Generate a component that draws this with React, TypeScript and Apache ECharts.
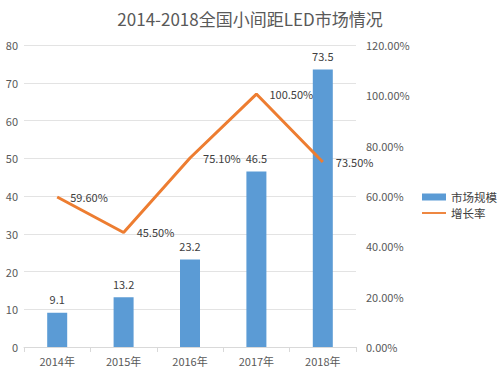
import React, { useEffect, useRef } from "react";
import * as echarts from "echarts";

const categories = ["2014年", "2015年", "2016年", "2017年", "2018年"];
const marketSize = [9.1, 13.2, 23.2, 46.5, 73.5];
const growthRate = [59.6, 45.5, 75.1, 100.5, 73.5];

export default function App() {
  const ref = useRef<HTMLDivElement>(null);
  useEffect(() => {
    document.body.style.margin = "0";
    const chart = echarts.init(ref.current!, null, { renderer: "svg" });
    const font = "'Noto Sans CJK SC', 'Noto Sans', sans-serif";
    chart.setOption({
      animation: false,
      backgroundColor: "#ffffff",
      textStyle: { fontFamily: font },
      title: {
        text: "2014-2018全国小间距LED市场情况",
        left: "center",
        top: 5,
        textStyle: { fontSize: 17, fontWeight: "normal", color: "#595959", fontFamily: font },
      },
      legend: {
        orient: "vertical",
        left: 417,
        top: 186,
        itemWidth: 24,
        itemHeight: 7,
        itemGap: 4,
        textStyle: { fontSize: 11.5, lineHeight: 12, color: "#404040", fontFamily: font },
        data: [
          { name: "市场规模", icon: "rect" },
          { name: "增长率", icon: "path://M0,0 L0,0 M0,2.5 H26 V4.5 H0 Z M0,7 L0,7" },
        ],
      },
      grid: { left: 24, right: 144, top: 45, bottom: 28 },
      xAxis: {
        type: "category",
        data: categories,
        axisLine: { lineStyle: { color: "#d9d9d9" } },
        axisTick: { show: true, alignWithLabel: false, lineStyle: { color: "#d9d9d9" }, length: 5 },
        axisLabel: { color: "#595959", fontSize: 11, margin: 8 },
      },
      yAxis: [
        {
          type: "value",
          min: 0,
          max: 80,
          interval: 10,
          axisLine: { show: false },
          axisTick: { show: false },
          splitLine: { lineStyle: { color: "#e3e3e3" } },
          axisLabel: { color: "#595959", fontSize: 11, margin: 6 },
        },
        {
          type: "value",
          min: 0,
          max: 120,
          interval: 20,
          axisLine: { show: false },
          axisTick: { show: false },
          splitLine: { show: false },
          axisLabel: {
            color: "#595959",
            fontSize: 11,
            margin: 10,
            formatter: (v: number) => v.toFixed(2) + "%",
          },
        },
      ],
      series: [
        {
          name: "市场规模",
          type: "bar",
          data: marketSize,
          barWidth: 20,
          itemStyle: { color: "#5B9BD5" },
          label: { show: true, position: "top", color: "#404040", fontSize: 11, distance: 8 },
        },
        {
          name: "增长率",
          type: "line",
          yAxisIndex: 1,
          data: growthRate,
          symbol: "circle",
          symbolSize: 0.1,
          showSymbol: true,
          lineStyle: { color: "#ED7D31", width: 3 },
          itemStyle: { color: "#ED7D31" },
          label: {
            show: true,
            position: "right",
            distance: 13,
            color: "#404040",
            fontSize: 11,
            formatter: (p: any) => Number(p.value).toFixed(2) + "%",
          },
        },
      ],
    });
    return () => chart.dispose();
  }, []);
  return <div ref={ref} style={{ width: 500, height: 375 }} />;
}
